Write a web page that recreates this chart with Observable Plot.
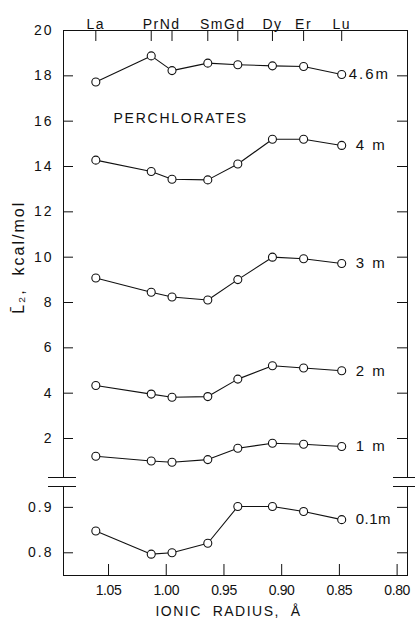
<!DOCTYPE html>
<html><head><meta charset="utf-8">
<script src="https://cdn.jsdelivr.net/npm/d3@7"></script>
<script src="https://cdn.jsdelivr.net/npm/@observablehq/plot@0.6"></script>
<style>
body{margin:0;background:#fff;}
#chart{width:415px;height:621px;}
#chart svg{display:block;overflow:visible;}
</style></head><body><div id="chart"></div>
<script>
const elements = ["La","Pr","Nd","Sm","Gd","Dy","Er","Lu"];
const radii = [1.061,1.013,0.995,0.964,0.938,0.908,0.881,0.848];
const topLabels = ["La","PrNd","SmGd","Dy","Er","Lu"];
const topLabelGroups = [["La"],["Pr","Nd"],["Sm","Gd"],["Dy"],["Er"],["Lu"]];
const seriesNames = ["4.6m","4 m","3 m","2 m","1 m"];
const m46 = [17.73,18.88,18.23,18.56,18.49,18.44,18.41,18.06];
const m4  = [14.28,13.78,13.44,13.41,14.11,15.20,15.20,14.93];
const m3  = [9.08,8.45,8.24,8.11,9.01,10.00,9.93,9.72];
const m2  = [4.34,3.96,3.82,3.85,4.62,5.21,5.11,4.99];
const m1  = [1.22,1.01,0.95,1.07,1.57,1.79,1.75,1.65];
const m01Name = "0.1m";
const m01 = [0.848,0.797,0.800,0.821,0.902,0.902,0.891,0.873];
const upperTicks = [2,4,6,8,10,12,14,16,18,20];
const lowerTicks = [0.8,0.9];
const xTicks = [1.05,1.00,0.95,0.90,0.85,0.80];
const xDomain = [1.089,0.791];
const upperDomain = [0.28,20];
const lowerDomain = [0.75,0.946];
const annotation = [{x:0.9875, y:16.12, text:"PERCHLORATES"}];
const yTitle = [{y:7.5, text:"L\u0304\u2082,  kcal/mol"}];
const xTitle = ["IONIC  RADIUS,  Å"];

const FONT = '"Liberation Sans", Arial, sans-serif';
const style = {fontSize:"14px", fontFamily:FONT, color:"#111", background:"transparent", overflow:"visible"};
const W = 415, ML = 63, MR = 8;
const PW = W - ML - MR;
const UH = 482, UMT = 30, UMB = 5, UPH = UH - UMT - UMB;
const LH = 139, LMT = 4, LMB = 46, LPH = LH - LMT - LMB;
const TICK = 10;
const tag = name => () => name;

const upperRows = [m46,m4,m3,m2,m1].flatMap((vals,i)=>vals.map((v,j)=>({series:seriesNames[i], el:elements[j], r:radii[j], v})));
const lowerRows = m01.map((v,j)=>({series:m01Name, el:elements[j], r:radii[j], v}));
const topLabelData = topLabels.map((name,i)=>({name, r:d3.mean(topLabelGroups[i], e=>radii[elements.indexOf(e)])}));
const last = elements[elements.length-1];

const upper = Plot.plot({
  width:W, height:UH, marginLeft:ML, marginRight:MR, marginTop:UMT, marginBottom:UMB,
  style:{...style},
  x:{domain:xDomain, axis:null},
  y:{domain:upperDomain, axis:null},
  marks:[
    Plot.frame({anchor:"left"}), Plot.frame({anchor:"right"}), Plot.frame({anchor:"top"}),
    Plot.axisY(upperTicks, {anchor:"left", tickSize:0, tickPadding:10, label:null, fontSize:14}),
    Plot.tickY(upperTicks, {y:d=>d, insetRight:PW-TICK}),
    Plot.tickY(upperTicks, {y:d=>d, insetLeft:PW-TICK}),
    Plot.tickX(radii, {x:d=>d, insetBottom:UPH-TICK-1}),
    Plot.text(topLabelData, {x:"r", text:"name", frameAnchor:"top", dy:-11, fontSize:14, ariaLabel:tag("ls-top")}),
    Plot.ruleY([upperDomain[0]], {insetLeft:-15, insetRight:PW-13}),
    Plot.ruleY([upperDomain[0]], {insetLeft:PW-14, insetRight:-8}),
    Plot.line(upperRows, {x:"r", y:"v", z:"series", stroke:"#111", strokeWidth:1.1}),
    Plot.dot(upperRows, {x:"r", y:"v", r:4, fill:"white", stroke:"#111", strokeWidth:1.1}),
    Plot.text(upperRows.filter(d=>d.el===last && d.series==="4.6m"), {x:"r", y:"v", text:"series", textAnchor:"start", dx:7, fontSize:15, ariaLabel:tag("ls-series")}),
    Plot.text(upperRows.filter(d=>d.el===last && d.series!=="4.6m"), {x:"r", y:"v", text:"series", textAnchor:"start", dx:14, fontSize:15, ariaLabel:tag("ls-series")}),
    Plot.text(annotation, {x:"x", y:"y", text:"text", fontSize:14, ariaLabel:tag("ls-annot")}),
    Plot.text(yTitle, {y:"y", text:"text", frameAnchor:"left", rotate:-90, dx:-45, fontSize:16, ariaLabel:tag("ls-ytitle")})
  ]
});

const lower = Plot.plot({
  width:W, height:LH, marginLeft:ML, marginRight:MR, marginTop:LMT, marginBottom:LMB,
  style:{...style},
  x:{domain:xDomain, axis:null},
  y:{domain:lowerDomain, axis:null},
  marks:[
    Plot.frame({anchor:"left"}), Plot.frame({anchor:"right"}), Plot.frame({anchor:"bottom"}),
    Plot.axisY(lowerTicks, {anchor:"left", tickSize:0, tickPadding:10, label:null, tickFormat:d3.format(".1f"), fontSize:14}),
    Plot.tickY(lowerTicks, {y:d=>d, insetRight:PW-TICK}),
    Plot.tickY(lowerTicks, {y:d=>d, insetLeft:PW-TICK}),
    Plot.axisX(xTicks, {anchor:"bottom", tickSize:0, tickPadding:10, label:null, tickFormat:d3.format(".2f"), fontSize:14}),
    Plot.tickX(xTicks, {x:d=>d, insetTop:LPH-TICK-1}),
    Plot.ruleY([lowerDomain[1]], {insetLeft:-15, insetRight:PW-13}),
    Plot.ruleY([lowerDomain[1]], {insetLeft:PW-14, insetRight:-8}),
    Plot.line(lowerRows, {x:"r", y:"v", stroke:"#111", strokeWidth:1.1}),
    Plot.dot(lowerRows, {x:"r", y:"v", r:4, fill:"white", stroke:"#111", strokeWidth:1.1}),
    Plot.text(lowerRows.filter(d=>d.el===last), {x:"r", y:"v", text:"series", textAnchor:"start", dx:14, fontSize:15, ariaLabel:tag("ls-series01")}),
    Plot.text(xTitle, {frameAnchor:"bottom", dy:40, dx:-7, fontSize:14, ariaLabel:tag("ls-xtitle")})
  ]
});

document.getElementById("chart").append(upper, lower);

// letter spacing to approximate the wide technical lettering of the original
const spacing = [
  ['g[aria-label="y-axis tick label"] text', "2px"],
  ['g[aria-label="x-axis tick label"] text', "-0.4px"],
  ['text[aria-label="ls-top"]', "1.5px"],
  ['text[aria-label="ls-series"]', "2px"],
  ['text[aria-label="ls-series01"]', "0.5px"],
  ['text[aria-label="ls-annot"]', "1.75px"],
  ['text[aria-label="ls-ytitle"]', "2px"],
  ['text[aria-label="ls-xtitle"]', "1.5px"]
];
for (const svg of [upper, lower]) for (const [sel, ls] of spacing) d3.select(svg).selectAll(sel).attr("letter-spacing", ls);
</script>
</body></html>
